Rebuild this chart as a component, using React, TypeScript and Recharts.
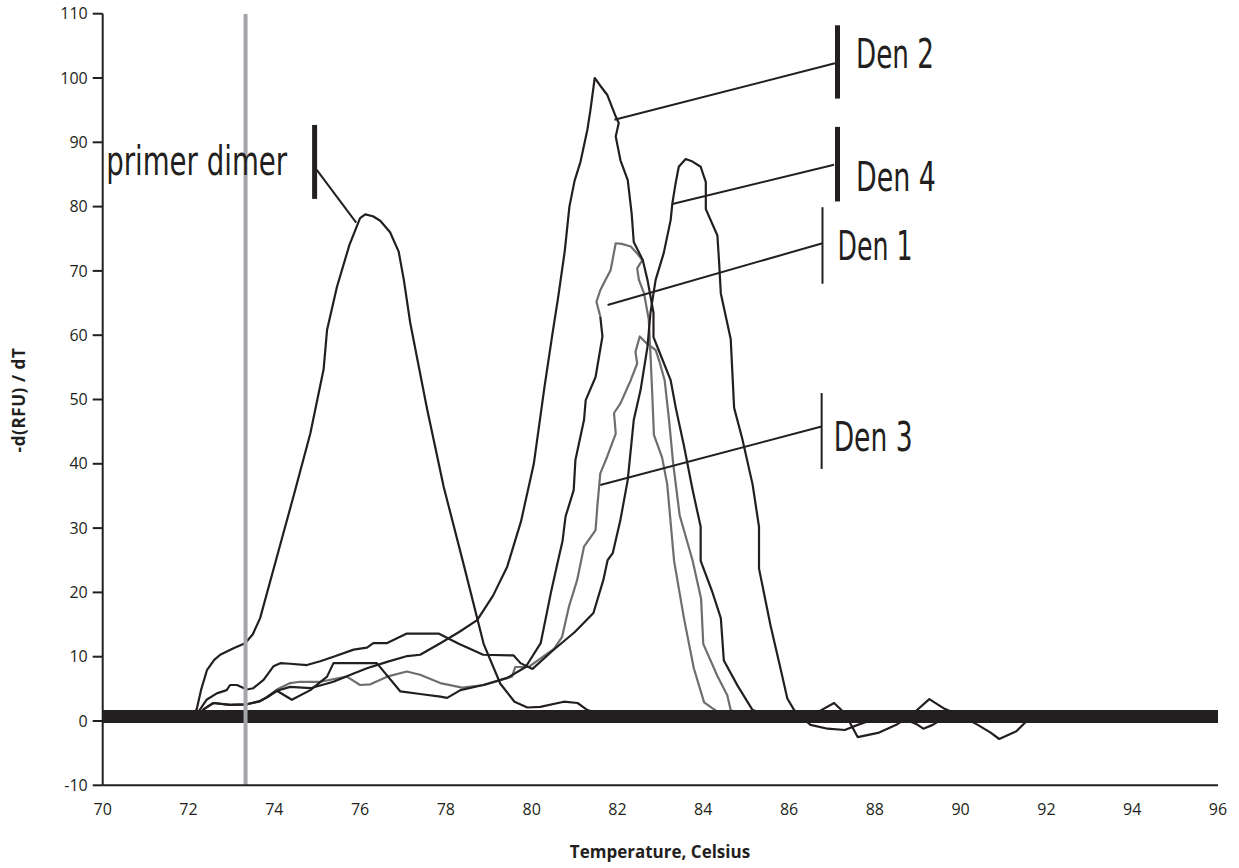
import React from 'react';
import { LineChart, Line, XAxis, YAxis, ReferenceLine, ReferenceDot } from 'recharts';

// melt curve, -d(RFU)/dT against temperature (°C)
const xTicks = [70, 72, 74, 76, 78, 80, 82, 84, 86, 88, 90, 92, 94, 96];
const yTicks = [-10, 0, 10, 20, 30, 40, 50, 60, 70, 80, 90, 100, 110];

type Pt = [number, number];

const primerDimer: Pt[] = [
  [72.05, 0.7], [72.19, 1.8], [72.3, 5], [72.43, 7.9], [72.6, 9.5], [72.74, 10.3], [73.05, 11.3],
  [73.32, 12.1], [73.5, 13.5], [73.67, 16], [74.06, 25.5], [74.45, 35], [74.84, 44.7], [75.15, 54.7],
  [75.23, 60.8], [75.46, 67.5], [75.75, 74], [76.0, 78.2], [76.12, 78.8], [76.3, 78.5], [76.47, 77.8],
  [76.7, 76], [76.9, 73], [77.02, 68.6], [77.17, 61.9], [77.56, 48.6], [77.95, 36.4], [78.42, 24.2],
  [78.88, 12], [79.27, 5.8], [79.6, 3], [79.9, 2.1], [80.2, 2.2], [80.75, 3.0], [81.07, 2.8],
  [81.3, 1.7], [81.8, 0.6],
];

const den2: Pt[] = [
  [72.25, 0.7], [72.35, 1.8], [72.58, 2.8], [72.97, 2.5], [73.36, 2.6], [73.67, 3.1], [73.83, 3.7],
  [74.06, 4.7], [74.37, 5.3], [74.84, 5.1], [75.38, 6.1], [75.85, 7.4], [76.16, 8.2], [76.63, 9.2],
  [77.1, 10.1], [77.4, 10.3], [77.87, 12.1], [78.3, 13.8], [78.73, 15.7], [79.1, 19.5], [79.43, 24],
  [79.75, 31], [80.05, 40], [80.3, 52], [80.48, 60], [80.62, 66], [80.77, 73], [80.88, 80], [81.0, 84],
  [81.14, 87], [81.3, 92], [81.37, 95], [81.47, 100], [81.6, 98.8], [81.76, 97.4], [81.96, 94],
  [82.03, 93], [81.96, 90.9], [82.07, 87.2], [82.24, 84.1], [82.33, 79], [82.38, 74.5], [82.59, 71.7],
  [82.7, 68.6], [82.84, 63.5], [82.84, 59.7], [82.96, 57.7], [83.24, 53], [83.36, 48.7], [83.55, 42.8],
  [83.75, 36], [83.94, 30.2], [83.94, 24.9], [84.21, 20.1], [84.41, 16], [84.48, 9.4], [84.8, 5.5],
  [85.15, 1.7], [85.6, 0.8], [86.2, 0.8], [86.7, 1.5], [87.05, 2.8], [87.3, 1.2], [87.6, -2.5],
  [88.1, -1.8], [88.5, -0.6], [88.9, 1.2], [89.27, 3.4], [89.6, 2.0], [90.0, 0.8], [90.4, -0.6],
  [90.7, -1.8], [90.9, -2.8], [91.3, -1.6], [91.6, 0.4],
];

const den4: Pt[] = [
  [72.15, 0.7], [72.27, 1.8], [72.42, 3.3], [72.66, 4.3], [72.89, 4.8], [72.97, 5.6], [73.13, 5.6],
  [73.36, 4.9], [73.51, 5.1], [73.75, 6.4], [73.98, 8.5], [74.14, 9.0], [74.37, 8.9], [74.76, 8.7],
  [75.07, 9.3], [75.38, 10.0], [75.85, 11.1], [76.16, 11.4], [76.31, 12.1], [76.62, 12.1],
  [77.09, 13.6], [77.83, 13.6], [78.3, 12], [78.87, 10.3], [79.58, 10.2], [79.74, 9.0], [80.02, 8.1],
  [80.5, 11], [81.0, 13.8], [81.44, 16.8], [81.67, 21.9], [81.77, 25], [81.89, 26.1], [82.07, 31.3],
  [82.24, 37.5], [82.38, 46.8], [82.54, 51.5], [82.7, 58.2], [82.77, 63.5], [82.89, 68.6],
  [83.08, 72.8], [83.24, 77.9], [83.28, 80.5], [83.36, 83.8], [83.43, 86.2], [83.59, 87.4],
  [83.75, 87], [83.94, 86.2], [84.06, 83.8], [84.06, 79.6], [84.33, 75.5], [84.37, 71.3],
  [84.41, 66.5], [84.64, 59.4], [84.72, 48.7], [84.91, 43.9], [85.15, 36.8], [85.3, 30.2],
  [85.3, 23.7], [85.57, 14.8], [85.8, 8.2], [85.96, 3.5], [86.12, 1.7], [86.5, -0.6], [86.9, -1.2],
  [87.3, -1.4], [87.6, -0.6], [88.0, 0.3], [88.6, 0.6], [89.0, -0.6], [89.13, -1.2], [89.35, -0.6],
  [89.6, 0.4], [90.2, 0.6], [90.8, 0.5],
];

// Den 1 is drawn black on its low part and grey near the top
const den1Low: Pt[] = [
  [72.25, 0.7], [72.35, 1.8], [72.58, 2.8], [72.97, 2.5], [73.36, 2.6], [73.67, 3.1], [73.83, 3.7],
  [74.06, 4.7], [74.41, 3.3], [74.84, 4.8], [75.23, 6.9], [75.38, 9.0], [76.39, 9.0], [76.94, 4.6],
  [77.4, 4.2], [77.87, 3.8], [78.03, 3.6], [78.34, 4.8], [78.87, 5.6], [79.43, 6.7], [79.86, 8.4],
  [80.21, 12.1], [80.45, 20], [80.6, 24.5], [80.72, 28], [80.79, 31.8], [80.98, 35.9], [81.02, 40.6],
  [81.22, 46.8], [81.26, 49.9], [81.49, 53.5], [81.65, 59.8], [81.6, 62.9],
];

const den1High: Pt[] = [
  [81.6, 62.9], [81.51, 65.2], [81.6, 67], [81.72, 68.6], [81.84, 70.1], [81.96, 74.3], [82.1, 74.2],
  [82.31, 73.8], [82.46, 72.7], [82.58, 71.7], [82.46, 70.4], [82.5, 68.6], [82.62, 66.5],
  [82.73, 62.4], [82.77, 57], [82.81, 51], [82.85, 44.5], [83.04, 41], [83.16, 36.8], [83.28, 27.9],
  [83.32, 24.9], [83.55, 16], [83.78, 8.2], [84.02, 2.9], [84.21, 2.0], [84.5, 0.7],
];

const den3: Pt[] = [
  [73.83, 3.7], [74.06, 4.9], [74.37, 5.9], [74.6, 6.1], [75.07, 6.1], [75.69, 6.9], [76.0, 5.6],
  [76.24, 5.7], [76.63, 6.9], [77.09, 7.7], [77.4, 7.2], [77.87, 5.9], [78.38, 5.2], [78.9, 5.6],
  [79.4, 6.6], [79.54, 6.9], [79.62, 8.4], [79.93, 8.4], [80.2, 9.7], [80.52, 11.2], [80.71, 13.1],
  [80.87, 17.8], [81.06, 21.9], [81.22, 27.1], [81.49, 29.7], [81.53, 33.3], [81.6, 38.5],
  [81.76, 41.1], [81.96, 44.7], [81.92, 47.9], [82.07, 49.4], [82.31, 53], [82.46, 55.6],
  [82.42, 57.4], [82.52, 59.8], [82.7, 58.6], [82.89, 57.7], [82.97, 56.1], [83.1, 53], [83.2, 47],
  [83.3, 40], [83.45, 32], [83.75, 25], [83.95, 19], [84.0, 12], [84.33, 7], [84.56, 4], [84.64, 1.7],
  [84.9, 0.7],
];

const zeroBand: Pt[] = [[70, 0.7], [96, 0.7]];
const cutoff: Pt[] = [[73.33, -10], [73.33, 110]];

const toRows = (pts: Pt[]) => pts.map(([x, y]) => ({ x, y }));

const INK = '#231f20';
const GREY = '#6d6e71';

const labels = [
  { text: 'primer dimer', at: [70.08, 84.9], len: 181, bar: [74.94, 92.7, 81.2], barW: 5, leader: [[74.99, 85.7], [75.91, 77.5]] },
  { text: 'Den 2', at: [87.56, 101.5], len: 78, bar: [87.13, 108.2, 96.8], barW: 5, leader: [[81.93, 93.5], [87.07, 102.3]] },
  { text: 'Den 4', at: [87.56, 82.4], len: 80, bar: [87.13, 92.4, 80.8], barW: 5, leader: [[83.28, 80.4], [87.05, 86.5]] },
  { text: 'Den 1', at: [87.13, 71.7], len: 75, bar: [86.78, 79.9, 68.0], barW: 2, leader: [[81.77, 64.7], [86.78, 74.3]] },
  { text: 'Den 3', at: [87.04, 42.0], len: 79, bar: [86.76, 51.0, 39.2], barW: 2, leader: [[81.6, 36.7], [86.76, 45.8]] },
];

const tickFont = { fontFamily: "'Open Sans', 'Noto Sans', sans-serif", fontSize: 16, fill: INK };

const titleStyle: React.CSSProperties = {
  position: 'absolute',
  fontFamily: "'Open Sans', 'Noto Sans', sans-serif",
  fontWeight: 700,
  fontSize: 17,
  lineHeight: '20px',
  color: INK,
  whiteSpace: 'nowrap',
};

export default function App() {
  const curves = [
    { key: 'den3', pts: den3, color: GREY },
    { key: 'den1High', pts: den1High, color: GREY },
    { key: 'primer', pts: primerDimer, color: INK },
    { key: 'den2', pts: den2, color: INK },
    { key: 'den4', pts: den4, color: INK },
    { key: 'den1Low', pts: den1Low, color: INK },
  ];

  return (
    <div style={{ position: 'absolute', left: 0, top: 0, width: 1239, height: 868, background: '#fff' }}>
      <LineChart width={1239} height={868} margin={{ top: 13.7, right: 21, left: 42.7, bottom: 52.7 }}>
        <XAxis
          type="number"
          dataKey="x"
          domain={[70, 96]}
          ticks={xTicks}
          allowDataOverflow
          height={30}
          tickLine={false}
          tickSize={10}
          tickMargin={8}
          axisLine={{ stroke: INK, strokeWidth: 2 }}
          tick={tickFont}
        />
        <YAxis
          type="number"
          dataKey="y"
          domain={[-10, 110]}
          ticks={yTicks}
          allowDataOverflow
          width={60}
          tickSize={10}
          tickMargin={5}
          axisLine={{ stroke: INK, strokeWidth: 2 }}
          tickLine={{ stroke: INK, strokeWidth: 2 }}
          tick={tickFont}
        />
        {curves.map((c) => (
          <Line
            key={c.key}
            data={toRows(c.pts)}
            dataKey="y"
            type="linear"
            stroke={c.color}
            strokeWidth={2.2}
            strokeLinejoin="round"
            dot={false}
            activeDot={false}
            isAnimationActive={false}
          />
        ))}
        <Line data={toRows(zeroBand)} dataKey="y" stroke={INK} strokeWidth={13} dot={false} activeDot={false} isAnimationActive={false} />
        <Line data={toRows(cutoff)} dataKey="y" stroke="#a3a5a8" strokeWidth={4} dot={false} activeDot={false} isAnimationActive={false} />
        {labels.map((l) => (
          <ReferenceLine
            key={l.text + '-bar'}
            segment={[{ x: l.bar[0], y: l.bar[1] }, { x: l.bar[0], y: l.bar[2] }]}
            stroke={INK}
            strokeWidth={l.barW}
            ifOverflow="visible"
          />
        ))}
        {labels.map((l) => (
          <ReferenceLine
            key={l.text + '-leader'}
            segment={[{ x: l.leader[0][0], y: l.leader[0][1] }, { x: l.leader[1][0], y: l.leader[1][1] }]}
            stroke={INK}
            strokeWidth={2}
            ifOverflow="visible"
          />
        ))}
        {labels.map((l) => (
          <ReferenceDot
            key={l.text}
            x={l.at[0]}
            y={l.at[1]}
            r={0}
            ifOverflow="visible"
            shape={(p: any) => (
              <text
                x={p.cx}
                y={p.cy}
                fontFamily="'Liberation Sans Narrow', 'DejaVu Sans Condensed', 'Open Sans', sans-serif"
                fontSize={40}
                fill={INK}
                textLength={l.len}
                lengthAdjust="spacingAndGlyphs"
              >
                {l.text}
              </text>
            )}
          />
        ))}
      </LineChart>
      <div style={{ ...titleStyle, left: 540, top: 842, width: 240, textAlign: 'center' }}>
        Temperature, Celsius
      </div>
      <div
        style={{
          ...titleStyle,
          left: 19,
          top: 400,
          letterSpacing: 0.6,
          transform: 'translate(-50%, -50%) rotate(-90deg)',
        }}
      >
        -d(RFU) / dT
      </div>
    </div>
  );
}
